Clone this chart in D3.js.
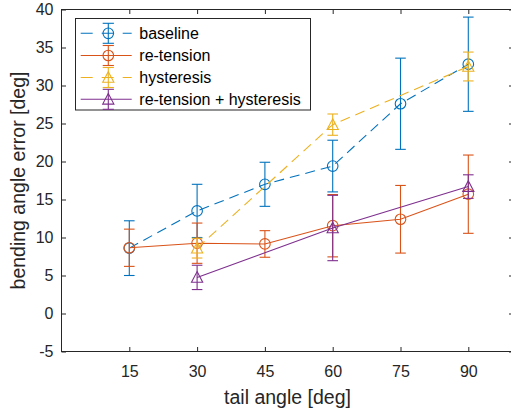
<!DOCTYPE html>
<html>
<head>
<meta charset="utf-8">
<script src="https://cdn.jsdelivr.net/npm/d3@7"></script>
<style>
  html, body { margin: 0; padding: 0; background: #ffffff; }
  svg { display: block; font-family: "Liberation Sans", Arial, sans-serif; }
</style>
</head>
<body>
<svg id="chart" width="511" height="415"></svg>
<script>
// Tail angles tested [deg]
const angles = [15, 30, 45, 60, 75, 90];
const anglesSub = [30, 60, 90];

// Mean bending angle error and spread [deg] per condition
const baselineMean = [8.6, 13.5, 17.0, 19.4, 27.6, 32.8];
const baselineErr  = [3.6, 3.5, 2.9, 3.4, 6.0, 6.2];

const retensionMean = [8.65, 9.25, 9.15, 11.55, 12.4, 15.7];
const retensionErr  = [2.45, 2.65, 1.75, 4.1, 4.45, 5.15];

const hysteresisMean = [8.6, 24.85, 32.5];
const hysteresisErr  = [1.3, 1.4, 1.9];

const bothMean = [4.75, 11.25, 16.7];
const bothErr  = [1.6, 4.3, 1.55];

const seriesNames = ["baseline", "re-tension", "hysteresis", "re-tension + hysteresis"];

const xTicks = [15, 30, 45, 60, 75, 90];
const yTicks = [-5, 0, 5, 10, 15, 20, 25, 30, 35, 40];

const series = [
  { name: seriesNames[0], x: angles,    y: baselineMean,   e: baselineErr,   color: "#0072BD", dash: "10,6", marker: "circle" },
  { name: seriesNames[1], x: angles,    y: retensionMean,  e: retensionErr,  color: "#D95319", dash: null,   marker: "circle" },
  { name: seriesNames[2], x: anglesSub, y: hysteresisMean, e: hysteresisErr, color: "#EDB120", dash: "10,6", marker: "triangle" },
  { name: seriesNames[3], x: anglesSub, y: bothMean,       e: bothErr,       color: "#7E2F8E", dash: null,   marker: "triangle" }
];

const svg = d3.select("#chart");
const axisColor = "#262626";

const plot = { left: 61.5, right: 513.5, top: 9.5, bottom: 351.5 };
const x = d3.scaleLinear().domain([0, 100]).range([plot.left, plot.right]);
const y = d3.scaleLinear().domain([-5, 40]).range([plot.bottom, plot.top]);

const capHalf = 5.3;
const lineW = 1.1;

function drawMarker(g, type, cx, cy, color) {
  if (type === "circle") {
    g.append("circle").attr("cx", cx).attr("cy", cy).attr("r", 5.3)
      .attr("fill", "none").attr("stroke", color).attr("stroke-width", lineW);
  } else {
    g.append("path")
      .attr("d", `M${cx},${cy - 5.8} L${cx + 5.6},${cy + 4.8} L${cx - 5.6},${cy + 4.8} Z`)
      .attr("fill", "none").attr("stroke", color).attr("stroke-width", lineW)
      .attr("stroke-linejoin", "miter");
  }
}

// Series: connecting line, error bars, markers
const line = d3.line().x(d => x(d[0])).y(d => y(d[1]));
series.forEach(s => {
  const g = svg.append("g");
  const pts = s.x.map((v, i) => [v, s.y[i], s.e[i]]);
  g.append("path").attr("d", line(pts))
    .attr("fill", "none").attr("stroke", s.color).attr("stroke-width", lineW)
    .attr("stroke-dasharray", s.dash);
  pts.forEach(p => {
    const cx = x(p[0]);
    const yt = y(p[1] + p[2]);
    const yb = y(p[1] - p[2]);
    g.append("line").attr("x1", cx).attr("x2", cx).attr("y1", yt).attr("y2", yb)
      .attr("stroke", s.color).attr("stroke-width", lineW);
    [yt, yb].forEach(yy => {
      g.append("line").attr("x1", cx - capHalf).attr("x2", cx + capHalf)
        .attr("y1", yy).attr("y2", yy)
        .attr("stroke", s.color).attr("stroke-width", lineW);
    });
    drawMarker(g, s.marker, cx, y(p[1]), s.color);
  });
});

// Axes with inward ticks on all four sides
function styleAxis(g) {
  g.select(".domain").remove();
  g.selectAll(".tick line").attr("stroke", axisColor);
  g.selectAll(".tick text").attr("fill", axisColor).style("font-size", "16px");
}
const plainNum = d => String(d);
svg.append("g").attr("transform", `translate(0,${plot.bottom})`)
  .call(d3.axisBottom(x).tickValues(xTicks).tickFormat(plainNum).tickSizeInner(-4.5).tickSizeOuter(0).tickPadding(14))
  .call(styleAxis);
svg.append("g").attr("transform", `translate(0,${plot.top})`)
  .call(d3.axisTop(x).tickValues(xTicks).tickFormat("").tickSizeInner(-4.5).tickSizeOuter(0))
  .call(styleAxis);
svg.append("g").attr("transform", `translate(${plot.left},0)`)
  .call(d3.axisLeft(y).tickValues(yTicks).tickFormat(plainNum).tickSizeInner(-4.5).tickSizeOuter(0).tickPadding(8))
  .call(styleAxis);
svg.append("g").attr("transform", `translate(${plot.right},0)`)
  .call(d3.axisRight(y).tickValues(yTicks).tickFormat("").tickSizeInner(-4.5).tickSizeOuter(0))
  .call(styleAxis);

svg.append("rect")
  .attr("x", plot.left).attr("y", plot.top)
  .attr("width", plot.right - plot.left).attr("height", plot.bottom - plot.top)
  .attr("fill", "none").attr("stroke", axisColor).attr("stroke-width", 1);

// Axis titles
svg.append("text")
  .attr("x", (plot.left + plot.right) / 2).attr("y", 404)
  .attr("text-anchor", "middle").attr("fill", axisColor)
  .style("font-size", "19.5px").text("tail angle [deg]");
svg.append("text")
  .attr("transform", `translate(25,${(plot.top + plot.bottom) / 2}) rotate(-90)`)
  .attr("text-anchor", "middle").attr("fill", axisColor)
  .style("font-size", "19.5px").text("bending angle error [deg]");

// Legend
const leg = svg.append("g");
leg.append("rect").attr("x", 75.5).attr("y", 18.5).attr("width", 235).attr("height", 91.5)
  .attr("fill", "#ffffff").attr("stroke", axisColor).attr("stroke-width", 1);
const rowY = [33.3, 55.5, 77.5, 99.3];
series.forEach((s, i) => {
  const ry = rowY[i];
  const mx = 108.3;
  leg.append("line").attr("x1", 80.7).attr("x2", 131.7).attr("y1", ry).attr("y2", ry)
    .attr("stroke", s.color).attr("stroke-width", lineW)
    .attr("stroke-dasharray", s.dash ? "12,9" : null);
  leg.append("line").attr("x1", mx).attr("x2", mx).attr("y1", ry - 10).attr("y2", ry + 10)
    .attr("stroke", s.color).attr("stroke-width", lineW);
  [ry - 10, ry + 10].forEach(yy => {
    leg.append("line").attr("x1", mx - 5.6).attr("x2", mx + 5.6).attr("y1", yy).attr("y2", yy)
      .attr("stroke", s.color).attr("stroke-width", lineW);
  });
  drawMarker(leg, s.marker, mx, ry, s.color);
  leg.append("text").attr("x", 139.3).attr("y", ry).attr("dy", "0.35em")
    .attr("fill", "#000000").style("font-size", "16px").text(s.name);
});
</script>
</body>
</html>
